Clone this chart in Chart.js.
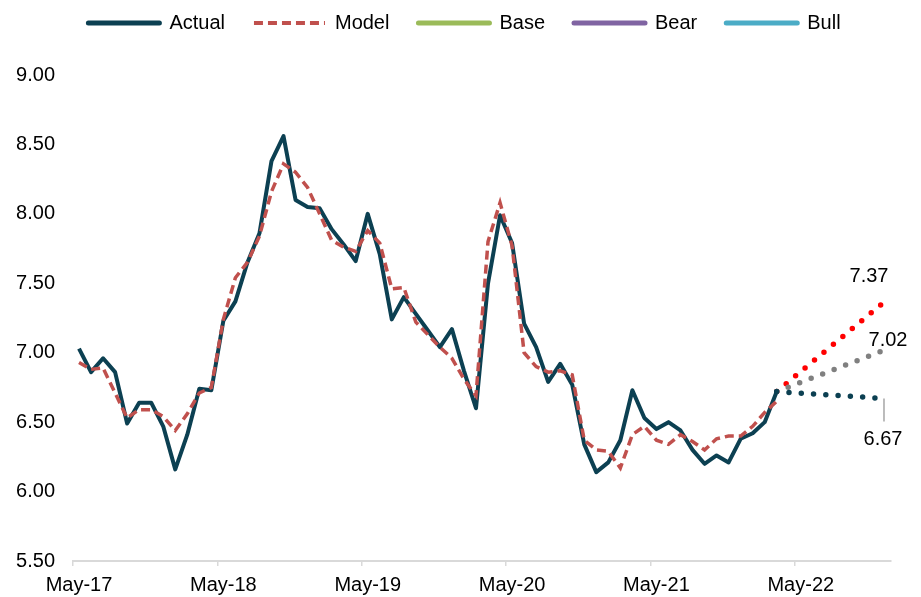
<!DOCTYPE html>
<html>
<head>
<meta charset="utf-8">
<script src="https://cdn.jsdelivr.net/npm/chart.js@4.4.1/dist/chart.umd.min.js"></script>
<style>
  html, body { margin: 0; padding: 0; background: #ffffff; }
  #wrap { width: 921px; height: 597px; position: relative; }
</style>
</head>
<body>
<div id="wrap"><canvas id="c"></canvas></div>
<script>
// ---- categories: monthly, May-17 .. Dec-22 ----
const monthNames = ['Jan','Feb','Mar','Apr','May','Jun','Jul','Aug','Sep','Oct','Nov','Dec'];
const categories = [];
for (let k = 0; k < 68; k++) {
  const m = (4 + k) % 12;
  const yr = 17 + Math.floor((4 + k) / 12);
  categories.push(monthNames[m] + '-' + yr);
}

// ---- series values ----
const actualValues = [
  7.03, 6.86, 6.96, 6.86, 6.49, 6.64, 6.64, 6.47, 6.16, 6.41, 6.74, 6.73,
  7.23, 7.37, 7.65, 7.86, 8.38, 8.56, 8.10, 8.05, 8.04, 7.89, 7.78, 7.66,
  8.00, 7.71, 7.24, 7.40, 7.28, 7.16, 7.04, 7.17, 6.87, 6.60, 7.50, 7.99,
  7.79, 7.21, 7.04, 6.79, 6.92, 6.77, 6.34, 6.14, 6.21, 6.37, 6.73, 6.53,
  6.45, 6.50, 6.44, 6.30, 6.20, 6.26, 6.21, 6.38, 6.42, 6.50, 6.72
];
const modelValues = [
  6.93, 6.88, 6.89, 6.71, 6.53, 6.59, 6.59, 6.54, 6.44, 6.56, 6.71, 6.75,
  7.24, 7.54, 7.65, 7.84, 8.16, 8.36, 8.30, 8.19, 8.00, 7.81, 7.76, 7.73,
  7.88, 7.79, 7.46, 7.47, 7.22, 7.13, 7.04, 6.96, 6.81, 6.69, 7.80, 8.08,
  7.77, 7.00, 6.90, 6.86, 6.87, 6.84, 6.37, 6.30, 6.29, 6.17, 6.41, 6.47,
  6.37, 6.34, 6.41, 6.36, 6.30, 6.38, 6.40, 6.40, 6.47, 6.57, 6.65
];
// scenario paths: start at last actual (Mar-22), end Dec-22
const scenarioStartIndex = 58;
const scenarioEndIndex = 67;
const scenarioStart = 6.72;
const baseEnd = 7.02;
const bearEnd = 6.67;
const bullEnd = 7.37;

const yTicks = [5.5, 6.0, 6.5, 7.0, 7.5, 8.0, 8.5, 9.0];

function padSeries(vals) {
  const out = categories.map(() => null);
  vals.forEach((v, i) => { out[i] = v; });
  return out;
}
function scenarioSeries(endVal) {
  const out = categories.map(() => null);
  out[scenarioStartIndex] = scenarioStart;
  out[scenarioEndIndex] = endVal;
  return out;
}

const C_ACTUAL = '#0C4052';
const C_MODEL = '#C0504D';

Chart.defaults.font.family = '"Liberation Sans", Arial, sans-serif';
Chart.defaults.font.size = 20;
Chart.defaults.color = '#000000';

const legendColors = ['#0C4052', '#C0504D', '#9BBB59', '#8064A2', '#4BACC6'];
const legendDash = [[], [9, 5], [], [], []];

const legendShift = {
  id: 'legendShift',
  afterLayout(chart) {
    const l = chart.legend;
    if (l) { l.top -= 32; l.bottom -= 32; l.left += 11; l.right += 11; }
  }
};

const endLabels = {
  id: 'endLabels',
  afterDatasetsDraw(chart) {
    const ctx = chart.ctx;
    const xs = chart.scales.x, ys = chart.scales.y;
    const px = xs.getPixelForValue(scenarioEndIndex);
    const items = [
      { v: bullEnd, dx: -16, dy: -25 },
      { v: baseEnd, dx: 3, dy: -9 },
      { v: bearEnd, dx: -2, dy: 41 }
    ];
    ctx.save();
    ctx.font = '20px "Liberation Sans", Arial, sans-serif';
    ctx.fillStyle = '#000000';
    ctx.textAlign = 'center';
    ctx.textBaseline = 'middle';
    items.forEach(it => {
      const py = ys.getPixelForValue(it.v);
      ctx.fillText(it.v.toFixed(2), px + it.dx, py + it.dy);
    });
    // leader line for the bear label
    const pyb = ys.getPixelForValue(bearEnd);
    ctx.strokeStyle = '#A6A6A6';
    ctx.lineWidth = 1.5;
    ctx.beginPath();
    ctx.moveTo(px - 1, pyb);
    ctx.lineTo(px - 1, pyb + 23);
    ctx.stroke();
    ctx.restore();
  }
};

new Chart(document.getElementById('c'), {
  type: 'line',
  data: {
    labels: categories,
    datasets: [
      { label: 'Actual', data: padSeries(actualValues), borderColor: C_ACTUAL, borderWidth: 4,
        pointRadius: 0, tension: 0, borderJoinStyle: 'round', order: 1 },
      { label: 'Model', data: padSeries(modelValues), borderColor: C_MODEL, borderWidth: 3.5,
        borderDash: [9, 5], pointRadius: 0, tension: 0, order: 0 },
      { label: 'Base', data: scenarioSeries(baseEnd), borderColor: '#808080', borderWidth: 5.5,
        borderDash: [0, 12.3], borderCapStyle: 'round', pointRadius: 0, spanGaps: true, order: 3 },
      { label: 'Bear', data: scenarioSeries(bearEnd), borderColor: C_ACTUAL, borderWidth: 5.5,
        borderDash: [0, 12.3], borderCapStyle: 'round', pointRadius: 0, spanGaps: true, order: 2 },
      { label: 'Bull', data: scenarioSeries(bullEnd), borderColor: '#FF0000', borderWidth: 5.5,
        borderDash: [0, 12.3], borderCapStyle: 'round', pointRadius: 0, spanGaps: true, order: 4 }
    ]
  },
  options: {
    responsive: true,
    maintainAspectRatio: false,
    animation: false,
    layout: { padding: { left: 16, right: 30, top: 16, bottom: 0 } },
    plugins: {
      tooltip: { enabled: false },
      legend: {
        position: 'top',
        labels: {
          usePointStyle: true,
          pointStyleWidth: 71,
          padding: 29,
          font: { size: 20 },
          color: '#000000',
          generateLabels(chart) {
            return chart.data.datasets.map((ds, i) => ({
              text: ds.label,
              fillStyle: legendColors[i],
              strokeStyle: legendColors[i],
              lineWidth: i === 1 ? 4 : 5,
              lineDash: legendDash[i],
              lineCap: i === 1 ? 'butt' : 'round',
              pointStyle: 'line',
              hidden: false,
              datasetIndex: i,
              fontColor: '#000000'
            }));
          }
        }
      }
    },
    scales: {
      x: {
        type: 'category',
        offset: true,
        afterFit: (s) => { s.height = 36; },
        grid: {
          display: true,
          offset: true,
          drawOnChartArea: false,
          drawTicks: true,
          tickLength: 5,
          lineWidth: 1.5,
          color: (c) => (c.index % 12 === 0 ? '#D9D9D9' : 'rgba(0,0,0,0)')
        },
        border: { display: true, color: '#D9D9D9', width: 2 },
        ticks: {
          autoSkip: false,
          maxRotation: 0,
          minRotation: 0,
          padding: 7,
          color: '#000000',
          font: { size: 20 },
          callback: function (v, i) { return i % 12 === 0 ? this.getLabelForValue(v) : ''; }
        }
      },
      y: {
        min: yTicks[0],
        max: yTicks[yTicks.length - 1],
        afterFit: (s) => { s.width = 57; },
        grid: { display: false, drawTicks: false },
        border: { display: false },
        ticks: {
          stepSize: 0.5,
          padding: 18,
          color: '#000000',
          font: { size: 20 },
          callback: (v) => Number(v).toFixed(2)
        }
      }
    }
  },
  plugins: [legendShift, endLabels]
});
</script>
</body>
</html>
